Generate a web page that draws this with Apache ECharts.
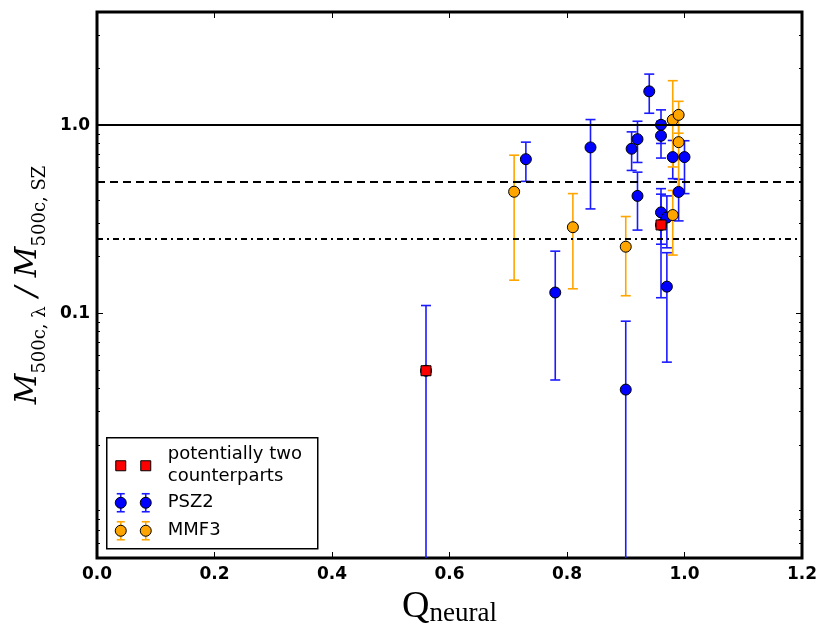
<!DOCTYPE html>
<html>
<head>
<meta charset="utf-8">
<script src="https://cdn.jsdelivr.net/npm/echarts@6/dist/echarts.min.js"></script>
<style>
  html, body { margin: 0; padding: 0; background: #fff; }
  #chart { width: 830px; height: 635px; }
</style>
</head>
<body>
<div id="chart"></div>
<script>
// PSZ2 matches: Q_neural, mass ratio and its error range
var psz2Q     = [0.56, 0.73, 0.78, 0.84, 0.90, 0.91, 0.92, 0.92, 0.94, 0.96, 0.96, 0.96, 0.96, 0.97, 0.97, 0.98, 0.99, 1.00];
var psz2Ratio = [0.0495, 0.66, 0.129, 0.762, 0.0393, 0.750, 0.843, 0.421, 1.514, 1.005, 0.879, 0.344, 0.295, 0.323, 0.1386, 0.677, 0.442, 0.677];
var psz2Lo    = [0.001, 0.503, 0.0442, 0.359, 0.001, 0.575, 0.634, 0.277, 1.158, 0.80, 0.669, 0.233, 0.121, 0.223, 0.055, 0.52, 0.31, 0.433];
var psz2Hi    = [0.110, 0.813, 0.214, 1.072, 0.0908, 0.922, 1.05, 0.563, 1.87, 1.207, 1.05, 0.46, 0.43, 0.421, 0.21, 0.83, 0.516, 0.827];

// MMF3 matches
var mmf3Q     = [0.71, 0.81, 0.90, 0.98, 0.98, 0.99, 0.99];
var mmf3Ratio = [0.443, 0.287, 0.226, 1.068, 0.333, 1.135, 0.813];
var mmf3Lo    = [0.150, 0.135, 0.124, 0.60, 0.204, 0.907, 0.46];
var mmf3Hi    = [0.693, 0.433, 0.327, 1.725, 0.45, 1.34, 1.0];

// potentially two counterparts
var redQ     = [0.56, 0.96];
var redRatio = [0.0495, 0.295];

// reference lines and ticks
var refLines    = [1.0, 0.5, 0.25];
var yMajorTicks = [0.1, 1.0];
var yTickLabels = ['0.1', '1.0'];
var yMinorTicks = [0.006, 0.007, 0.008, 0.009,
                   0.02, 0.03, 0.04, 0.05, 0.06, 0.07, 0.08, 0.09,
                   0.2, 0.3, 0.4, 0.5, 0.6, 0.7, 0.8, 0.9, 2, 3];

var Y_MIN = 0.005, Y_MAX = 4;

var myChart = echarts.init(document.getElementById('chart'));

function errorBars(xs, lo, hi, color) {
    return {
        type: 'custom',
        clip: true,
        silent: true,
        z: 2,
        data: xs.map(function (x, i) { return [x, lo[i], hi[i]]; }),
        encode: { x: 0, y: [1, 2] },
        renderItem: function (params, api) {
            var x = api.value(0);
            var top = api.coord([x, api.value(2)]);
            var bot = api.coord([x, api.value(1)]);
            var w = 5;
            var st = { stroke: color, lineWidth: 1.6 };
            return {
                type: 'group',
                children: [
                    { type: 'line', shape: { x1: top[0], y1: top[1], x2: bot[0], y2: bot[1] }, style: st },
                    { type: 'line', shape: { x1: top[0] - w, y1: top[1], x2: top[0] + w, y2: top[1] }, style: st },
                    { type: 'line', shape: { x1: bot[0] - w, y1: bot[1], x2: bot[0] + w, y2: bot[1] }, style: st }
                ]
            };
        }
    };
}

function pairs(xs, ys) {
    return xs.map(function (x, i) { return [x, ys[i]]; });
}

function logAxis(pos, ticks, len, labels) {
    var ax = {
        type: 'log',
        position: pos,
        min: Y_MIN,
        max: Y_MAX,
        axisLine: { show: false },
        splitLine: { show: false },
        axisTick: { inside: true, length: len, customValues: ticks, lineStyle: { color: '#000', width: 1 } },
        axisLabel: { show: false }
    };
    if (labels) {
        ax.axisLabel = {
            show: true,
            customValues: yMajorTicks,
            margin: 7,
            fontFamily: 'DejaVu Sans',
            fontWeight: 'bold',
            fontSize: 17,
            color: '#000',
            formatter: function (v) {
                var i = yMajorTicks.indexOf(v);
                return i >= 0 ? yTickLabels[i] : '';
            }
        };
        ax.name = '{m|M}{s|500c, λ}{m| / M}{s|500c, SZ}';
        ax.nameLocation = 'middle';
        ax.nameGap = 46;
        ax.nameRotate = 90;
        ax.nameTextStyle = {
            rich: {
                m: { fontFamily: 'DejaVu Serif', fontStyle: 'italic', fontSize: 30, lineHeight: 36, verticalAlign: 'top', color: '#000' },
                s: { fontFamily: 'DejaVu Serif', fontSize: 18, lineHeight: 24, verticalAlign: 'bottom', color: '#000' }
            }
        };
    }
    return ax;
}

var option = {
    animation: false,
    backgroundColor: '#fff',
    grid: {
        left: 97, right: 28, top: 12, bottom: 77,
        show: true, borderColor: '#000', borderWidth: 3, backgroundColor: 'transparent'
    },
    xAxis: [{
        type: 'value',
        position: 'bottom',
        min: 0, max: 1.2, interval: 0.2,
        axisLine: { show: false },
        splitLine: { show: false },
        axisTick: { inside: true, length: 6, lineStyle: { color: '#000' } },
        axisLabel: {
            margin: 8, fontFamily: 'DejaVu Sans', fontWeight: 'bold', fontSize: 17, color: '#000',
            formatter: function (v) { return v.toFixed(1); }
        },
        name: '{q|Q}{n|neural}',
        nameLocation: 'middle',
        nameGap: 28,
        nameTextStyle: {
            rich: {
                q: { fontFamily: 'Liberation Serif', fontSize: 38, lineHeight: 40, verticalAlign: 'top', color: '#000' },
                n: { fontFamily: 'Liberation Serif', fontSize: 27, lineHeight: 26, verticalAlign: 'bottom', color: '#000' }
            }
        }
    }, {
        type: 'value',
        position: 'top',
        min: 0, max: 1.2, interval: 0.2,
        axisLine: { show: false },
        splitLine: { show: false },
        axisTick: { inside: true, length: 6, lineStyle: { color: '#000' } },
        axisLabel: { show: false }
    }],
    yAxis: [
        logAxis('left', yMajorTicks, 6, true),
        logAxis('left', yMinorTicks, 3, false),
        logAxis('right', yMajorTicks, 6, false),
        logAxis('right', yMinorTicks, 3, false)
    ],
    series: [
        {
            type: 'scatter',
            symbolSize: 0,
            data: [],
            markLine: {
                silent: true,
                symbol: ['none', 'none'],
                label: { show: false },
                data: [
                    { yAxis: refLines[0], lineStyle: { color: '#000', width: 1.8, type: 'solid' } },
                    { yAxis: refLines[1], lineStyle: { color: '#000', width: 2, type: [8, 5] } },
                    { yAxis: refLines[2], lineStyle: { color: '#000', width: 2, type: [6, 4, 2, 4] } }
                ]
            }
        },
        errorBars(psz2Q, psz2Lo, psz2Hi, '#1a1aff'),
        {
            type: 'scatter', z: 3,
            symbol: 'circle', symbolSize: 11,
            itemStyle: { color: '#0000ff', borderColor: '#000', borderWidth: 1, opacity: 1 },
            data: pairs(psz2Q, psz2Ratio)
        },
        errorBars(mmf3Q, mmf3Lo, mmf3Hi, '#ffa500'),
        {
            type: 'scatter', z: 4,
            symbol: 'circle', symbolSize: 11,
            itemStyle: { color: '#ffa500', borderColor: '#000', borderWidth: 1, opacity: 1 },
            data: pairs(mmf3Q, mmf3Ratio)
        },
        {
            type: 'scatter', z: 5,
            symbol: 'rect', symbolSize: 10,
            itemStyle: { color: '#ff0000', borderColor: '#000', borderWidth: 1, opacity: 1 },
            data: pairs(redQ, redRatio)
        }
    ],
    graphic: [
        {
            type: 'group', left: 106, top: 437, z: 100,
            children: [
                { type: 'rect', shape: { x: 0, y: 0, width: 211, height: 111 }, style: { fill: '#fff', stroke: '#000', lineWidth: 1.5 } },
                { type: 'rect', shape: { x: 9, y: 23, width: 10, height: 10 }, style: { fill: '#ff0000', stroke: '#000', lineWidth: 1 } },
                { type: 'rect', shape: { x: 34, y: 23, width: 10, height: 10 }, style: { fill: '#ff0000', stroke: '#000', lineWidth: 1 } },
                { type: 'text', x: 61, y: 28, style: { text: 'potentially two\ncounterparts', fontFamily: 'DejaVu Sans', fontSize: 18, lineHeight: 22, fill: '#000', verticalAlign: 'middle' } },
                // PSZ2 entry
                { type: 'line', shape: { x1: 14, y1: 56, x2: 14, y2: 74 }, style: { stroke: '#1a1aff', lineWidth: 1.6 } },
                { type: 'line', shape: { x1: 10, y1: 56, x2: 18, y2: 56 }, style: { stroke: '#1a1aff', lineWidth: 1.6 } },
                { type: 'line', shape: { x1: 10, y1: 74, x2: 18, y2: 74 }, style: { stroke: '#1a1aff', lineWidth: 1.6 } },
                { type: 'line', shape: { x1: 39, y1: 56, x2: 39, y2: 74 }, style: { stroke: '#1a1aff', lineWidth: 1.6 } },
                { type: 'line', shape: { x1: 35, y1: 56, x2: 43, y2: 56 }, style: { stroke: '#1a1aff', lineWidth: 1.6 } },
                { type: 'line', shape: { x1: 35, y1: 74, x2: 43, y2: 74 }, style: { stroke: '#1a1aff', lineWidth: 1.6 } },
                { type: 'circle', shape: { cx: 14, cy: 65, r: 5.5 }, style: { fill: '#0000ff', stroke: '#000', lineWidth: 1 } },
                { type: 'circle', shape: { cx: 39, cy: 65, r: 5.5 }, style: { fill: '#0000ff', stroke: '#000', lineWidth: 1 } },
                { type: 'text', x: 61, y: 65, style: { text: 'PSZ2', fontFamily: 'DejaVu Sans', fontSize: 18, fill: '#000', verticalAlign: 'middle' } },
                // MMF3 entry
                { type: 'line', shape: { x1: 14, y1: 84, x2: 14, y2: 102 }, style: { stroke: '#ffa500', lineWidth: 1.6 } },
                { type: 'line', shape: { x1: 10, y1: 84, x2: 18, y2: 84 }, style: { stroke: '#ffa500', lineWidth: 1.6 } },
                { type: 'line', shape: { x1: 10, y1: 102, x2: 18, y2: 102 }, style: { stroke: '#ffa500', lineWidth: 1.6 } },
                { type: 'line', shape: { x1: 39, y1: 84, x2: 39, y2: 102 }, style: { stroke: '#ffa500', lineWidth: 1.6 } },
                { type: 'line', shape: { x1: 35, y1: 84, x2: 43, y2: 84 }, style: { stroke: '#ffa500', lineWidth: 1.6 } },
                { type: 'line', shape: { x1: 35, y1: 102, x2: 43, y2: 102 }, style: { stroke: '#ffa500', lineWidth: 1.6 } },
                { type: 'circle', shape: { cx: 14, cy: 93, r: 5.5 }, style: { fill: '#ffa500', stroke: '#000', lineWidth: 1 } },
                { type: 'circle', shape: { cx: 39, cy: 93, r: 5.5 }, style: { fill: '#ffa500', stroke: '#000', lineWidth: 1 } },
                { type: 'text', x: 61, y: 93, style: { text: 'MMF3', fontFamily: 'DejaVu Sans', fontSize: 18, fill: '#000', verticalAlign: 'middle' } }
            ]
        }
    ]
};

myChart.setOption(option);
</script>
</body>
</html>
